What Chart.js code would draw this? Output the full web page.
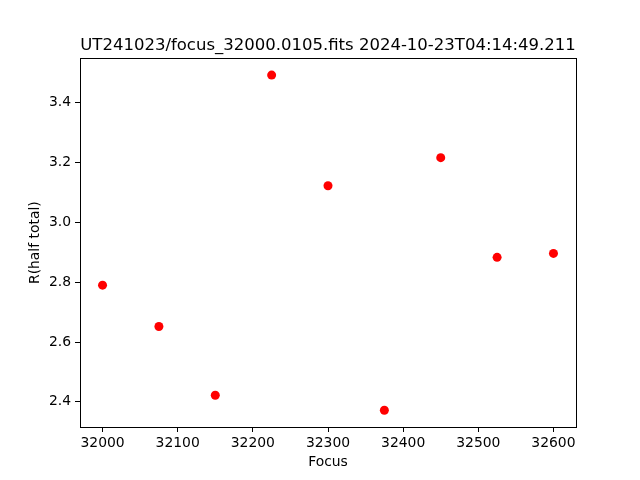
<!DOCTYPE html>
<html>
<head>
<meta charset="utf-8">
<script src="https://cdn.jsdelivr.net/npm/chart.js@4/dist/chart.umd.min.js"></script>
<style>
html,body{margin:0;padding:0;background:#fff;}
#wrap{width:640px;height:480px;position:relative;}
</style>
</head>
<body>
<div id="wrap"><canvas id="c" width="640" height="480"></canvas></div>
<script>
const focusValues = [32000, 32075, 32150, 32225, 32300, 32375, 32450, 32525, 32600];
const rHalfTotal = [2.790, 2.652, 2.422, 3.492, 3.122, 2.372, 3.216, 2.883, 2.896];
const chartTitle = "UT241023/focus_32000.0105.fits 2024-10-23T04:14:49.211";
const xLabel = "Focus";
const yLabel = "R(half total)";

const points = focusValues.map((x, i) => ({x: x, y: rHalfTotal[i]}));
const FONT = "'DejaVu Sans', sans-serif";

const frame = {
  id: 'frame',
  afterDatasetsDraw(chart) {
    const a = chart.chartArea, ctx = chart.ctx;
    ctx.save();
    ctx.strokeStyle = '#000';
    ctx.lineWidth = 1;
    ctx.strokeRect(Math.round(a.left) + 0.5, Math.round(a.top) + 0.5,
                   Math.round(a.right - a.left), Math.round(a.bottom - a.top));
    ctx.restore();
  }
};

new Chart(document.getElementById('c'), {
  type: 'scatter',
  data: {
    datasets: [{
      data: points,
      backgroundColor: '#ff0000',
      borderColor: '#ff0000',
      pointRadius: 4.5,
      pointBorderWidth: 0,
      pointHoverRadius: 4.5
    }]
  },
  plugins: [frame],
  options: {
    responsive: false,
    animation: false,
    layout: {padding: {left: 0, right: 64, top: 0, bottom: 0}},
    plugins: {
      legend: {display: false},
      tooltip: {enabled: false},
      title: {
        display: true,
        fullSize: false,
        text: chartTitle,
        color: '#000',
        font: {family: FONT, size: 16.5, weight: 'normal'},
        padding: {top: 36, bottom: 2.5}
      }
    },
    scales: {
      x: {
        type: 'linear',
        min: 31970,
        max: 32630,
        afterFit(s) { s.height = 53; },
        ticks: {
          stepSize: 100,
          includeBounds: false,
          color: '#000',
          font: {family: FONT, size: 13.9},
          padding: 3,
          maxRotation: 0,
          callback: v => String(v)
        },
        grid: {display: true, drawOnChartArea: false, drawTicks: true, tickLength: 5, color: '#000'},
        border: {display: true, color: '#000'},
        title: {display: true, text: xLabel, color: '#000', font: {family: FONT, size: 13.9}, padding: {top: 2, bottom: 9}}
      },
      y: {
        type: 'linear',
        min: 2.316,
        max: 3.548,
        afterFit(s) { s.width = 80; },
        ticks: {
          stepSize: 0.2,
          includeBounds: false,
          color: '#000',
          font: {family: FONT, size: 13.9},
          padding: 4,
          callback: v => v.toFixed(1)
        },
        grid: {display: true, drawOnChartArea: false, drawTicks: true, tickLength: 5, color: '#000'},
        border: {display: true, color: '#000'},
        title: {display: true, text: yLabel, color: '#000', font: {family: FONT, size: 13.9}, padding: {top: 27, bottom: 4}}
      }
    }
  }
});
</script>
</body>
</html>
